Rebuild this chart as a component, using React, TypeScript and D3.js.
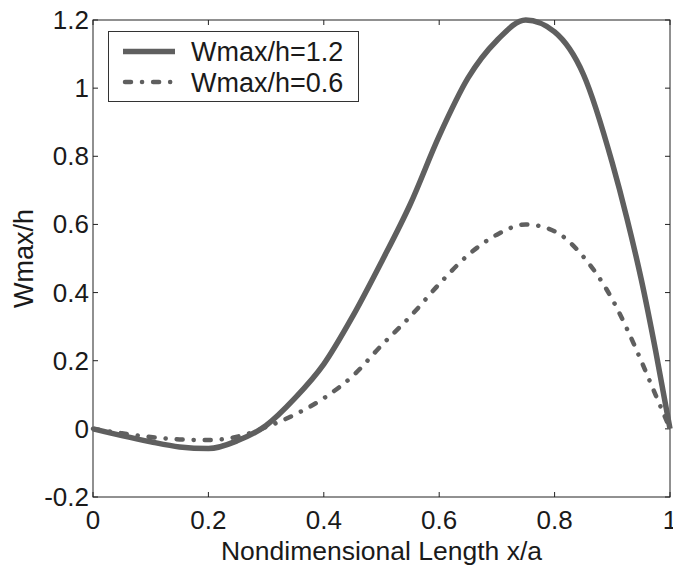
import React from "react";
import * as d3 from "d3";

const xValues = [0, 0.05, 0.1, 0.15, 0.2, 0.25, 0.3, 0.35, 0.4, 0.45, 0.5, 0.55, 0.6, 0.65, 0.7, 0.75, 0.8, 0.85, 0.9, 0.925, 0.95, 0.975, 1.0];
const seriesHigh = [0, -0.02, -0.038, -0.053, -0.058, -0.035, 0.01, 0.09, 0.19, 0.33, 0.49, 0.66, 0.86, 1.03, 1.14, 1.2, 1.165, 1.04, 0.78, 0.62, 0.44, 0.23, 0];
const seriesLow = [0, -0.013, -0.024, -0.031, -0.033, -0.023, 0.005, 0.042, 0.09, 0.155, 0.245, 0.33, 0.425, 0.51, 0.57, 0.6, 0.58, 0.505, 0.38, 0.295, 0.2, 0.1, 0];
const seriesNames = ["Wmax/h=1.2", "Wmax/h=0.6"];
const xTicks = [0, 0.2, 0.4, 0.6, 0.8, 1];
const yTicks = [-0.2, 0, 0.2, 0.4, 0.6, 0.8, 1, 1.2];
const xTitle = "Nondimensional Length x/a";
const yTitle = "Wmax/h";

const W = 673;
const H = 566;
const M = { left: 93, right: 670, top: 20, bottom: 497 };
const FONT = "'Liberation Sans', Arial, Helvetica, sans-serif";
const LINE = "#5f5f5f";
const TXT = "#1a1a1a";

export default function App() {
  const x = d3.scaleLinear().domain([0, 1]).range([M.left, M.right]);
  const y = d3.scaleLinear().domain([-0.2, 1.2]).range([M.bottom, M.top]);
  const line = d3
    .line<number>()
    .x((_, i) => x(xValues[i]))
    .y((d) => y(d))
    .curve(d3.curveMonotoneX);

  const fmt = (v: number) => (Math.abs(v) < 1e-9 ? "0" : String(+v.toFixed(1)));
  const tickLen = 5;

  return (
    <svg
      width={W}
      height={H}
      style={{ position: "absolute", left: 0, top: 0, background: "#fff" }}
      fontFamily={FONT}
    >
      <rect x={0} y={0} width={W} height={H} fill="#fff" />
      {/* plot box */}
      <rect
        x={M.left}
        y={M.top}
        width={M.right - M.left}
        height={M.bottom - M.top}
        fill="none"
        stroke="#222"
        strokeWidth={1}
      />
      {/* x ticks */}
      {xTicks.map((t) => (
        <g key={"xt" + t}>
          <line x1={x(t)} x2={x(t)} y1={M.bottom} y2={M.bottom - tickLen} stroke="#222" />
          <line x1={x(t)} x2={x(t)} y1={M.top} y2={M.top + tickLen} stroke="#222" />
          <text x={x(t)} y={529} fontSize={26} textAnchor="middle" fill={TXT}>
            {fmt(t)}
          </text>
        </g>
      ))}
      {/* y ticks */}
      {yTicks.map((t) => (
        <g key={"yt" + t}>
          <line x1={M.left} x2={M.left + tickLen} y1={y(t)} y2={y(t)} stroke="#222" />
          <line x1={M.right} x2={M.right - tickLen} y1={y(t)} y2={y(t)} stroke="#222" />
          <text x={89} y={y(t) + 9} fontSize={26} textAnchor="end" fill={TXT}>
            {fmt(t)}
          </text>
        </g>
      ))}
      {/* titles */}
      <text x={(M.left + M.right) / 2} y={560} fontSize={26.5} textAnchor="middle" fill={TXT}>
        {xTitle}
      </text>
      <text
        transform={`translate(33, ${(M.top + M.bottom) / 2}) rotate(-90)`}
        fontSize={27}
        textAnchor="middle"
        fill={TXT}
      >
        {yTitle}
      </text>
      {/* curves */}
      <path d={line(seriesHigh) || ""} fill="none" stroke={LINE} strokeWidth={5.5} strokeLinejoin="round" />
      <path
        d={line(seriesLow) || ""}
        fill="none"
        stroke={LINE}
        strokeWidth={4.5}
        strokeDasharray="6 11 0.1 11"
        strokeLinecap="round"
      />
      {/* legend */}
      <rect x={108.5} y={31.5} width={250} height={70} fill="#fff" stroke="#333" strokeWidth={1} />
      <line x1={123} x2={175} y1={51.5} y2={51.5} stroke={LINE} strokeWidth={5.5} />
      <line
        x1={125}
        x2={175}
        y1={82}
        y2={82}
        stroke={LINE}
        strokeWidth={4.5}
        strokeDasharray="6 11 0.1 11"
        strokeLinecap="round"
      />
      <text x={191} y={60.5} fontSize={27} fill={TXT}>
        {seriesNames[0]}
      </text>
      <text x={191} y={91.5} fontSize={27} fill={TXT}>
        {seriesNames[1]}
      </text>
    </svg>
  );
}
